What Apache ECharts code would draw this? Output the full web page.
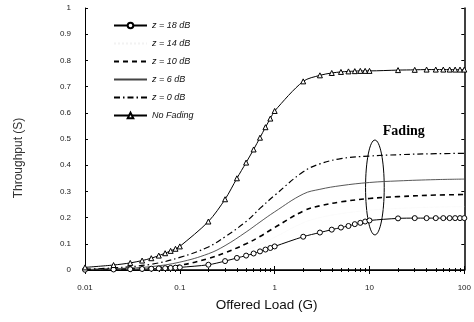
<!DOCTYPE html>
<html>
<head>
<meta charset="utf-8">
<script src="https://cdn.jsdelivr.net/npm/echarts@6/dist/echarts.min.js"></script>
<style>
  html, body { margin: 0; padding: 0; background: #fff; }
  #chart { width: 474px; height: 322px; }
</style>
</head>
<body>
<div id="chart"></div>
<script>
// offered load points carrying markers
const gPts = [0.01, 0.02, 0.03, 0.04, 0.05, 0.06, 0.07, 0.08, 0.09,
              0.1, 0.2, 0.3, 0.4, 0.5, 0.6, 0.7, 0.8, 0.9,
              1, 2, 3, 4, 5, 6, 7, 8, 9,
              10, 20, 30, 40, 50, 60, 70, 80, 90, 100];
const noFading = [0.01, 0.019, 0.027, 0.036, 0.045, 0.055, 0.064, 0.073, 0.081,
                  0.09, 0.185, 0.27, 0.35, 0.41, 0.46, 0.505, 0.545, 0.578,
                  0.607, 0.72, 0.743, 0.752, 0.756, 0.758, 0.759, 0.76, 0.76,
                  0.76, 0.763, 0.764, 0.765, 0.765, 0.765, 0.765, 0.765, 0.765, 0.765];
const z18 = [0.001, 0.002, 0.003, 0.004, 0.005, 0.006, 0.007, 0.008, 0.009,
             0.01, 0.02, 0.034, 0.046, 0.055, 0.063, 0.071, 0.078, 0.084,
             0.09, 0.127, 0.143, 0.154, 0.162, 0.168, 0.175, 0.18, 0.185,
             0.189, 0.197, 0.198, 0.198, 0.198, 0.198, 0.198, 0.198, 0.198, 0.198];

// offered load points for the plain curves
const gCurve = [0.01, 0.02, 0.05, 0.1, 0.2, 0.3, 0.5, 0.7, 1, 2, 3, 5, 10, 20, 50, 100];
const z0  = [0.003, 0.008, 0.022, 0.048, 0.088, 0.127, 0.185, 0.235, 0.285, 0.375, 0.405, 0.425, 0.435, 0.44, 0.444, 0.445];
const z6  = [0.002, 0.005, 0.013, 0.03, 0.062, 0.093, 0.145, 0.183, 0.222, 0.29, 0.308, 0.322, 0.334, 0.34, 0.345, 0.347];
const z10 = [0.001, 0.003, 0.008, 0.018, 0.044, 0.066, 0.1, 0.128, 0.162, 0.225, 0.245, 0.26, 0.273, 0.28, 0.286, 0.288];
const z14 = [0.001, 0.002, 0.006, 0.014, 0.031, 0.049, 0.076, 0.098, 0.125, 0.18, 0.2, 0.215, 0.228, 0.235, 0.24, 0.242];

const xTicks = [0.01, 0.1, 1, 10, 100];
const yTicks = ['0', '0.1', '0.2', '0.3', '0.4', '0.5', '0.6', '0.7', '0.8', '0.9', '1'];

const pair = (xs, ys) => xs.map((x, i) => [x, ys[i]]);

const chart = echarts.init(document.getElementById('chart'));

const axisFont = { fontSize: 8, color: '#222', fontFamily: 'Liberation Sans' };
// line-only curves: no dot in the legend icon
const noDot = { color: 'rgba(0,0,0,0)', borderWidth: 0 };

const option = {
  animation: false,
  backgroundColor: '#fff',
  grid: { left: 85, right: 7, top: 8, bottom: 52 },
  legend: {
    orient: 'vertical',
    left: 108, top: 16,
    itemWidth: 33, itemHeight: 7, itemGap: 9,
    textStyle: { fontSize: 9, fontStyle: 'italic', color: '#111', fontFamily: 'Liberation Sans' },
    data: ['z = 18 dB', 'z = 14 dB', 'z = 10 dB', 'z = 6 dB', 'z = 0 dB', 'No Fading']
  },
  xAxis: [{
    type: 'log', logBase: 10, min: 0.01, max: 100,
    name: 'Offered Load (G)', nameLocation: 'middle', nameGap: 28,
    nameTextStyle: { fontSize: 13.5, color: '#111', fontFamily: 'Liberation Sans', padding: [0, 16, 0, 0] },
    axisLine: { lineStyle: { color: '#000', width: 1 } },
    axisTick: { inside: true, length: 4, lineStyle: { color: '#000' } },
    minorTick: { show: true, splitNumber: 9, length: 2, lineStyle: { color: '#000' } },
    splitLine: { show: false },
    axisLabel: Object.assign({ margin: 14, formatter: v => xTicks.includes(v) ? String(v) : '' }, axisFont)
  }, {
    type: 'log', logBase: 10, min: 0.01, max: 100, position: 'top',
    axisLine: { lineStyle: { color: '#000', width: 1.5 } },
    axisTick: { inside: true, length: 4, lineStyle: { color: '#000' } },
    minorTick: { show: true, splitNumber: 9, length: 2, lineStyle: { color: '#000' } },
    splitLine: { show: false },
    axisLabel: { show: false }
  }],
  yAxis: [{
    type: 'value', min: 0, max: 1, interval: 0.1,
    name: 'Throughput (S)', nameLocation: 'middle', nameGap: 60, nameRotate: 90,
    nameTextStyle: { fontSize: 12, color: '#333', fontFamily: 'Liberation Sans', padding: [0, 38, 0, 0] },
    axisLine: { show: true, lineStyle: { color: '#000', width: 1 } },
    axisTick: { show: true, inside: true, length: 3, lineStyle: { color: '#000' } },
    splitLine: { show: false },
    axisLabel: Object.assign({ margin: 14, formatter: (v) => yTicks[Math.round(v * 10)] }, axisFont)
  }, {
    type: 'value', min: 0, max: 1, interval: 0.1, position: 'right',
    axisLine: { show: true, lineStyle: { color: '#000', width: 1.5 } },
    axisTick: { show: true, inside: true, length: 3, lineStyle: { color: '#000' } },
    splitLine: { show: false },
    axisLabel: { show: false }
  }],
  series: [
    {
      name: 'z = 18 dB', type: 'line', data: pair(gPts, z18), smooth: 0.3,
      symbol: 'circle', symbolSize: 5, showSymbol: true,
      itemStyle: { color: '#fff', borderColor: '#000', borderWidth: 1 },
      lineStyle: { color: '#000', width: 1 }
    },
    {
      name: 'z = 14 dB', type: 'line', data: pair(gCurve, z14), smooth: 0.4,
      symbol: 'none', itemStyle: noDot,
      lineStyle: { color: '#f2f2f2', width: 0.6, type: 'dotted' }
    },
    {
      name: 'z = 10 dB', type: 'line', data: pair(gCurve, z10), smooth: 0.4,
      symbol: 'none', itemStyle: noDot,
      lineStyle: { color: '#000', width: 1.6, type: [5, 4] }
    },
    {
      name: 'z = 6 dB', type: 'line', data: pair(gCurve, z6), smooth: 0.4,
      symbol: 'none', itemStyle: noDot,
      lineStyle: { color: '#444', width: 0.9 }
    },
    {
      name: 'z = 0 dB', type: 'line', data: pair(gCurve, z0), smooth: 0.4,
      symbol: 'none', itemStyle: noDot,
      lineStyle: { color: '#000', width: 1.2, type: [6, 3, 1.5, 3] }
    },
    {
      name: 'No Fading', type: 'line', data: pair(gPts, noFading), smooth: 0.3,
      symbol: 'triangle', symbolSize: 5, showSymbol: true,
      itemStyle: { color: '#fff', borderColor: '#000', borderWidth: 1 },
      lineStyle: { color: '#000', width: 1 }
    }
  ]
};

chart.setOption(option);

// "Fading" callout: ellipse round the fading curves near G = 10, label above it
const ellipseCenter = [11.4, 0.315];
const ellipseTop = [11.4, 0.496];
const ellipseSide = [14.3, 0.315];
const labelAt = [23, 0.53];
const c = chart.convertToPixel({ gridIndex: 0 }, ellipseCenter);
const t = chart.convertToPixel({ gridIndex: 0 }, ellipseTop);
const s = chart.convertToPixel({ gridIndex: 0 }, ellipseSide);
const l = chart.convertToPixel({ gridIndex: 0 }, labelAt);
chart.setOption({
  graphic: [
    {
      type: 'ellipse',
      shape: { cx: c[0], cy: c[1], rx: s[0] - c[0], ry: c[1] - t[1] },
      style: { fill: 'none', stroke: '#000', lineWidth: 1 }
    },
    {
      type: 'text', x: l[0], y: l[1],
      style: { text: 'Fading', font: 'bold 14px "Liberation Serif"', fill: '#000', align: 'center', verticalAlign: 'middle' }
    }
  ]
});
</script>
</body>
</html>
